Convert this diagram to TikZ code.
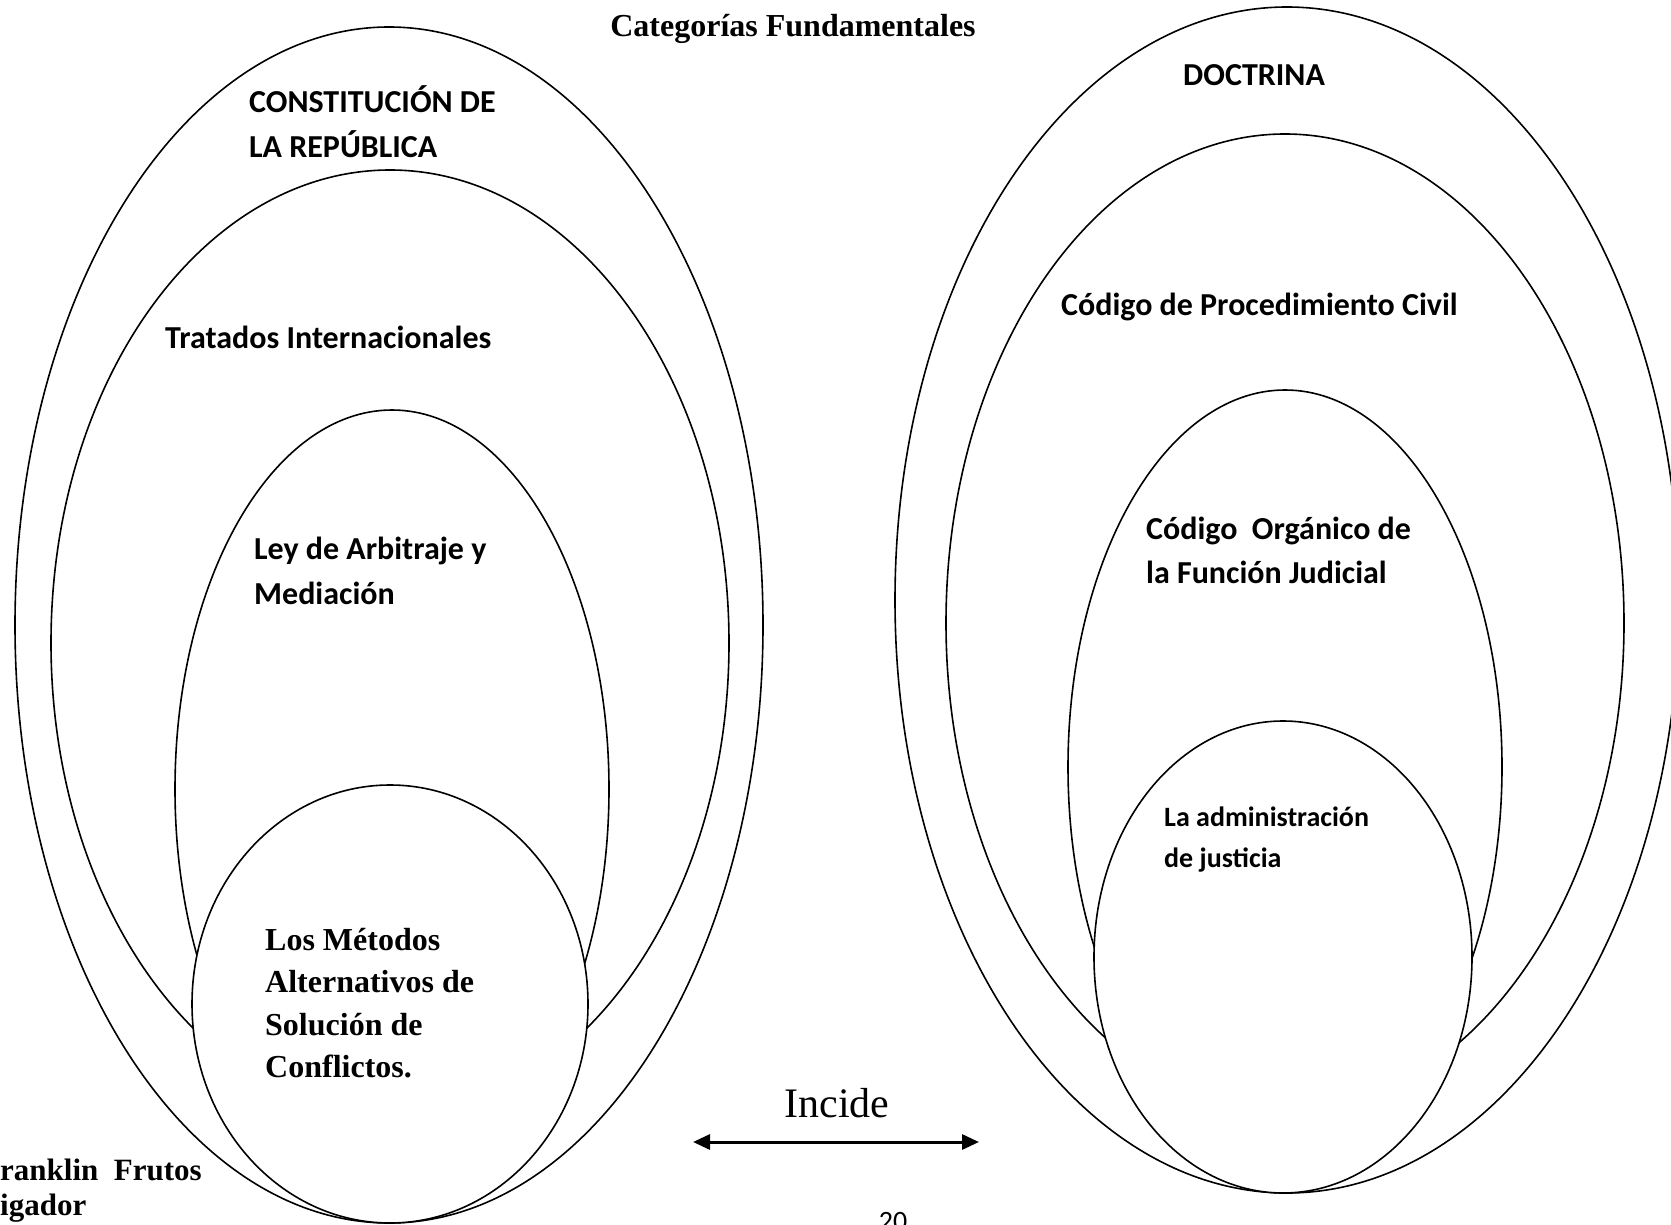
\documentclass[tikz,border=0pt]{standalone}
\usepackage{fontspec}
\setmainfont{Liberation Serif}
\newfontfamily\calfont{Carlito}
\usetikzlibrary{shapes.geometric,arrows.meta}
\tikzset{
  oval/.style={ellipse,draw=black,line width=1.6pt,fill=white,inner sep=0pt,outer sep=0pt},
  caltext/.style={anchor=base west,inner sep=0pt,font=\calfont\bfseries\fontsize{32}{38}\selectfont},
  calsmall/.style={anchor=base west,inner sep=0pt,font=\calfont\bfseries\fontsize{28}{34}\selectfont},
  timesbold/.style={anchor=base west,inner sep=0pt,font=\bfseries\fontsize{32}{38}\selectfont},
}
\begin{document}
\begin{tikzpicture}[x=1pt,y=-1pt]
\useasboundingbox (0,0) rectangle (1671,1225);
% left group
\node[oval,minimum width=748pt,minimum height=1196pt] (L1) at (389,625) {};
\node[oval,minimum width=678pt,minimum height=946pt] (L2) at (390,643) {};
\node[oval,minimum width=434pt,minimum height=758pt] (L3) at (392,789) {};
\node[oval,minimum width=396pt,minimum height=438pt] (L4) at (390,1004) {};
% right group
\node[oval,minimum width=784pt,minimum height=1186pt] (R1) at (1287,600) {};
\node[oval,minimum width=678pt,minimum height=978pt] (R2) at (1285,623) {};
\node[oval,minimum width=434pt,minimum height=754pt] (R3) at (1285,767) {};
\node[oval,minimum width=378pt,minimum height=472pt] (R4) at (1283,957) {};
% title
\node[anchor=base,inner sep=0pt,font=\bfseries\fontsize{32}{38}\selectfont] (title) at (793,37) {Categorías Fundamentales};
% left texts
\node[caltext] (c1) at (249,113) {CONSTITUCIÓN DE};
\node[caltext] (c2) at (249,158) {LA REPÚBLICA};
\node[caltext] (tr) at (165,348) {Tratados Internacionales};
\node[caltext] (ley1) at (254,559) {Ley de Arbitraje y};
\node[caltext] (ley2) at (254,604) {Mediación};
\node[timesbold] (m1) at (265,950) {Los Métodos};
\node[timesbold] (m2) at (265,992) {Alternativos de};
\node[timesbold] (m3) at (265,1035) {Solución de};
\node[timesbold] (m4) at (265,1077) {Conflictos.};
% right texts
\node[caltext] (doc) at (1183,86) {DOCTRINA};
\node[caltext] (cpc) at (1061,315) {Código de Procedimiento Civil};
\node[caltext] (co1) at (1146,539) {Código\ \ Orgánico de};
\node[caltext] (co2) at (1146,583) {la Función Judicial};
\node[calsmall] (aj1) at (1164,826) {La administración};
\node[calsmall] (aj2) at (1164,867) {de justicia};
% bottom
\node[timesbold,font=\bfseries\fontsize{31}{37}\selectfont] (fr1) at (0,1180) {ranklin\ \ Frutos};
\node[timesbold,font=\bfseries\fontsize{31}{37}\selectfont] (fr2) at (0,1215) {igador};
\node[anchor=base,inner sep=0pt,font=\fontsize{42}{48}\selectfont] (inc) at (837,1117) {Incide};
\coordinate (aL) at (693,1142);
\coordinate (aR) at (979,1142);
\draw[line width=3pt,{Triangle[length=17pt,width=15pt]}-{Triangle[length=17pt,width=15pt]}] (aL) -- (aR);
\node[anchor=base,inner sep=0pt,font=\calfont\fontsize{28}{34}\selectfont] (pg) at (893,1230) {20};
\end{tikzpicture}
\end{document}
